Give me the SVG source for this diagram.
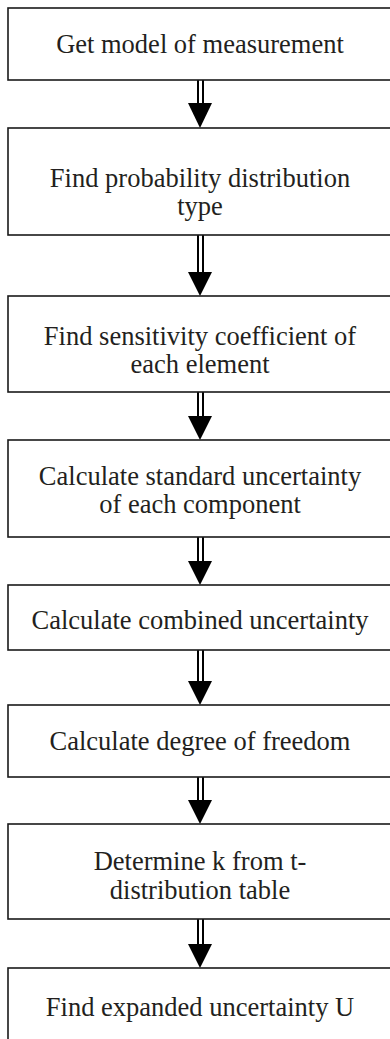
<svg xmlns="http://www.w3.org/2000/svg" width="390" height="1039" viewBox="0 0 390 1039">
<style>
.box{fill:#fff;stroke:#1a1a1a;stroke-width:1.6}
.lbl{font-family:"Liberation Serif","Times New Roman",serif;font-size:26.5px;fill:#231f20;text-anchor:middle}
.shaft{stroke:#000;stroke-width:2;fill:none}
.head{fill:#000}
</style>
<rect width="390" height="1039" fill="#fff"/>
<g id="connectors">
  <g id="c1"><line class="shaft" x1="198" y1="80" x2="198" y2="104"/><line class="shaft" x1="203" y1="80" x2="203" y2="104"/><polygon class="head" points="188,103 212,103 200,128"/></g>
  <g id="c2"><line class="shaft" x1="198" y1="235" x2="198" y2="273"/><line class="shaft" x1="203" y1="235" x2="203" y2="273"/><polygon class="head" points="188,272 212,272 200,296"/></g>
  <g id="c3"><line class="shaft" x1="198" y1="392" x2="198" y2="417"/><line class="shaft" x1="203" y1="392" x2="203" y2="417"/><polygon class="head" points="188,416 212,416 200,440"/></g>
  <g id="c4"><line class="shaft" x1="198" y1="537" x2="198" y2="562"/><line class="shaft" x1="203" y1="537" x2="203" y2="562"/><polygon class="head" points="188,561 212,561 200,585"/></g>
  <g id="c5"><line class="shaft" x1="198" y1="650" x2="198" y2="682"/><line class="shaft" x1="203" y1="650" x2="203" y2="682"/><polygon class="head" points="188,681 212,681 200,705"/></g>
  <g id="c6"><line class="shaft" x1="198" y1="777" x2="198" y2="801"/><line class="shaft" x1="203" y1="777" x2="203" y2="801"/><polygon class="head" points="188,800 212,800 200,824"/></g>
  <g id="c7"><line class="shaft" x1="198" y1="919" x2="198" y2="945"/><line class="shaft" x1="203" y1="919" x2="203" y2="945"/><polygon class="head" points="188,944 212,944 200,968"/></g>
</g>
<g id="n1"><rect class="box" x="8" y="8" width="390" height="72"/><text class="lbl" x="200" y="53">Get model of measurement</text></g>
<g id="n2"><rect class="box" x="8" y="128" width="390" height="107"/><text class="lbl" x="200" y="187">Find probability distribution</text><text class="lbl" x="200" y="215">type</text></g>
<g id="n3"><rect class="box" x="8" y="296" width="390" height="96"/><text class="lbl" x="200" y="345">Find sensitivity coefficient of</text><text class="lbl" x="200" y="373">each element</text></g>
<g id="n4"><rect class="box" x="8" y="440" width="390" height="97"/><text class="lbl" x="200" y="485">Calculate standard uncertainty</text><text class="lbl" x="200" y="513">of each component</text></g>
<g id="n5"><rect class="box" x="8" y="585" width="390" height="65"/><text class="lbl" x="200" y="629">Calculate combined uncertainty</text></g>
<g id="n6"><rect class="box" x="8" y="705" width="390" height="72"/><text class="lbl" x="200" y="750">Calculate degree of freedom</text></g>
<g id="n7"><rect class="box" x="8" y="824" width="390" height="95"/><text class="lbl" x="200" y="870">Determine k from t-</text><text class="lbl" x="200" y="899">distribution table</text></g>
<g id="n8"><rect class="box" x="8" y="968" width="390" height="90"/><text class="lbl" x="200" y="1016">Find expanded uncertainty U</text></g>
</svg>
